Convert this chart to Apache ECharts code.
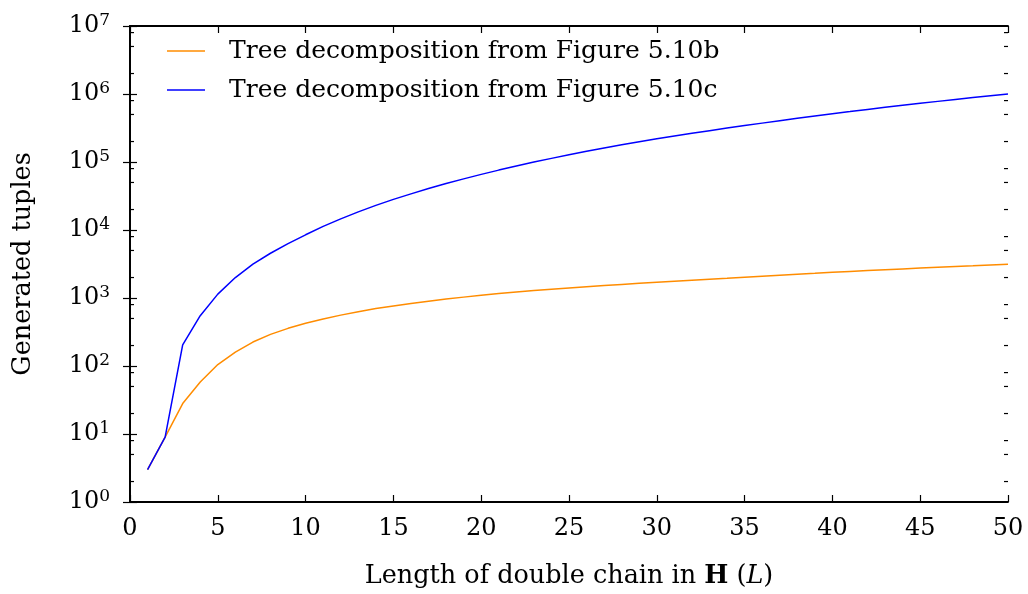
<!DOCTYPE html>
<html>
<head>
<meta charset="utf-8">
<script src="https://cdn.jsdelivr.net/npm/echarts@6/dist/echarts.min.js"></script>
<style>
  html, body { margin: 0; padding: 0; background: #fff; }
  #chart { width: 1028px; height: 594px; }
</style>
</head>
<body>
<div id="chart"></div>
<script>
// Chain length L
const chainLength = [
  1, 2, 3, 4, 5, 6, 7, 8, 9, 10,
  11, 12, 13, 14, 15, 16, 17, 18, 19, 20,
  21, 22, 23, 24, 25, 26, 27, 28, 29, 30,
  31, 32, 33, 34, 35, 36, 37, 38, 39, 40,
  41, 42, 43, 44, 45, 46, 47, 48, 49, 50
];

// Generated tuples, tree decomposition of Figure 5.10b
const tuplesFig510b = [
  3, 9, 28, 58, 105, 160, 225, 292, 358, 424,
  490, 560, 628, 700, 765, 832, 898, 965, 1030, 1095,
  1160, 1222, 1285, 1345, 1405, 1465, 1525, 1585, 1645, 1705,
  1765, 1825, 1890, 1955, 2025, 2095, 2165, 2240, 2310, 2385,
  2455, 2530, 2605, 2680, 2755, 2830, 2905, 2980, 3060, 3140
];

// Generated tuples, tree decomposition of Figure 5.10c
const tuplesFig510c = [
  3, 9, 205, 550, 1140, 2000, 3150, 4550, 6300, 8500,
  11300, 14600, 18500, 23000, 28200, 34000, 40700, 48200, 56500, 65800,
  76000, 87300, 99700, 113000, 128000, 144000, 161000, 179000, 199000, 219000,
  241000, 264000, 289000, 315000, 343000, 373000, 405000, 440000, 476000, 514000,
  551000, 593000, 636000, 682000, 729000, 779000, 831000, 885000, 941000, 1000000
];

const seriesNames = [
  'Tree decomposition from Figure 5.10b',
  'Tree decomposition from Figure 5.10c'
];

// Minor tick positions on the log axis (2, 5 and 8 within each decade)
const minorTickValues = [];
for (let e = 0; e < 7; e++) {
  [2, 5, 8].forEach(function (k) { minorTickValues.push(k * Math.pow(10, e)); });
}

const FONT = 'DejaVu Serif';
const pair = (xs, ys) => xs.map((x, i) => [x, ys[i]]);

const chart = echarts.init(document.getElementById('chart'), null, { renderer: 'canvas' });

const xAxisBase = {
  type: 'value', min: 0, max: 50, interval: 5,
  axisLine: { show: true, onZero: false, lineStyle: { color: '#000', width: 1.8 } },
  axisTick: { show: true, inside: true, length: 7, lineStyle: { color: '#000', width: 1.2 } },
  splitLine: { show: false }
};
const yAxisBase = {
  type: 'log', logBase: 10, min: 1, max: 1e7, splitNumber: 7,
  axisLine: { show: true, lineStyle: { color: '#000', width: 1.8 } },
  axisTick: { show: true, inside: true, length: 7, lineStyle: { color: '#000', width: 1.2 } },
  splitLine: { show: false }
};

chart.setOption({
  animation: false,
  backgroundColor: '#fff',
  grid: { left: 130, right: 20, top: 26, bottom: 92, containLabel: false, outerBoundsMode: 'none' },
  legend: {
    data: seriesNames,
    orient: 'vertical',
    left: 162, top: 32,
    icon: 'rect',
    itemWidth: 38, itemHeight: 1.5, itemGap: 11,
    textStyle: { fontFamily: FONT, fontSize: 25, color: '#000', lineHeight: 28, padding: [0, 0, 0, 19] }
  },
  xAxis: [
    Object.assign({}, xAxisBase, {
      position: 'bottom',
      name: '{t|Length of double chain in }{b|H}{t| (}{i|L}{t|)}',
      nameLocation: 'middle', nameGap: 61,
      nameTextStyle: {
        rich: {
          t: { fontFamily: FONT, fontSize: 25.5, color: '#000' },
          b: { fontFamily: FONT, fontSize: 25.5, color: '#000', fontWeight: 'bold' },
          i: { fontFamily: FONT, fontSize: 25.5, color: '#000', fontStyle: 'italic' }
        }
      },
      axisLabel: { fontFamily: FONT, fontSize: 24, color: '#000', margin: 15 }
    }),
    Object.assign({}, xAxisBase, { position: 'top', axisLabel: { show: false } })
  ],
  yAxis: [
    Object.assign({}, yAxisBase, {
      position: 'left',
      name: 'Generated tuples',
      nameLocation: 'middle', nameGap: 94,
      nameTextStyle: { fontFamily: FONT, fontSize: 25.5, color: '#000' },
      axisLabel: {
        margin: 20,
        formatter: function (v) {
          return '{b|10}{s|' + Math.round(Math.log10(v)) + '}';
        },
        rich: {
          b: { fontFamily: FONT, fontSize: 24, color: '#000', lineHeight: 28 },
          s: { fontFamily: FONT, fontSize: 17, color: '#000', verticalAlign: 'top', lineHeight: 28, padding: [0, 0, 12, 0] }
        }
      }
    }),
    Object.assign({}, yAxisBase, { position: 'right', axisLabel: { show: false } })
  ],
  series: [
    {
      name: seriesNames[0], type: 'line', xAxisIndex: 0, yAxisIndex: 0,
      data: pair(chainLength, tuplesFig510b),
      symbol: 'none', lineStyle: { color: '#ff8c00', width: 1.5 }, itemStyle: { color: '#ff8c00' }
    },
    {
      name: seriesNames[1], type: 'line', xAxisIndex: 0, yAxisIndex: 0,
      data: pair(chainLength, tuplesFig510c),
      symbol: 'none', lineStyle: { color: '#0000ff', width: 1.5 }, itemStyle: { color: '#0000ff' }
    },
    {
      // short inward minor ticks on both vertical axes
      type: 'custom', xAxisIndex: 0, yAxisIndex: 0, silent: true, clip: false,
      data: minorTickValues.map(v => [0, v]),
      renderItem: function (params, api) {
        const y = api.coord([0, api.value(1)])[1];
        const cs = params.coordSys;
        const st = { stroke: '#000', lineWidth: 1.2 };
        return {
          type: 'group',
          children: [
            { type: 'line', shape: { x1: cs.x, y1: y, x2: cs.x + 4, y2: y }, style: st },
            { type: 'line', shape: { x1: cs.x + cs.width - 4, y1: y, x2: cs.x + cs.width, y2: y }, style: st }
          ]
        };
      }
    }
  ]
});
</script>
</body>
</html>
